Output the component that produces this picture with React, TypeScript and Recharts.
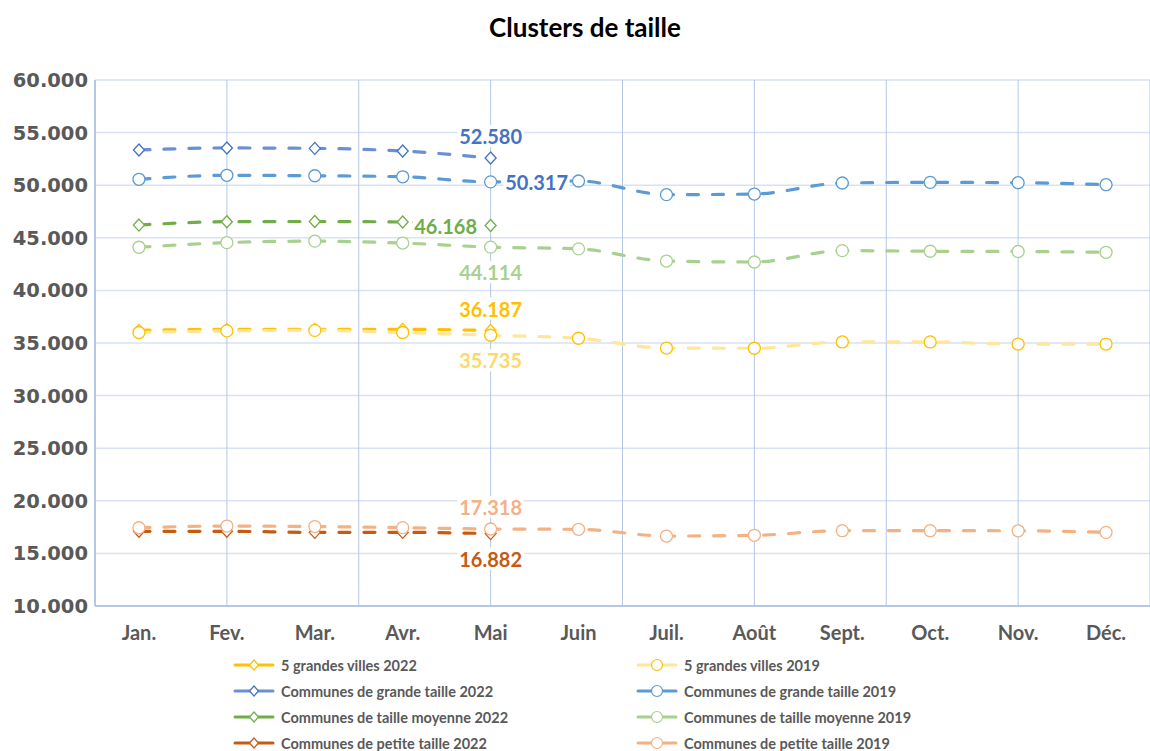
import React from 'react';
import { LineChart, Line, XAxis, YAxis, CartesianGrid, Legend } from 'recharts';

const months = ['Jan.', 'Fev.', 'Mar.', 'Avr.', 'Mai', 'Juin', 'Juil.', 'Août', 'Sept.', 'Oct.', 'Nov.', 'Déc.'];
const yTicks = [10000, 15000, 20000, 25000, 30000, 35000, 40000, 45000, 50000, 55000, 60000];

// 2022 only runs to Mai
const villes2022 = [36200, 36300, 36300, 36300, 36187, null, null, null, null, null, null, null];
const villes2019 = [36000, 36150, 36200, 36000, 35735, 35450, 34520, 34500, 35100, 35100, 34900, 34900];
const grande2022 = [53350, 53540, 53500, 53250, 52580, null, null, null, null, null, null, null];
const grande2019 = [50560, 50940, 50900, 50800, 50317, 50400, 49100, 49160, 50210, 50270, 50240, 50050];
const moyenne2022 = [46210, 46530, 46550, 46500, 46168, null, null, null, null, null, null, null];
const moyenne2019 = [44100, 44540, 44680, 44500, 44114, 43950, 42790, 42700, 43780, 43720, 43700, 43620];
const petite2022 = [17100, 17100, 17000, 17000, 16882, null, null, null, null, null, null, null];
const petite2019 = [17440, 17600, 17550, 17450, 17318, 17290, 16650, 16720, 17160, 17160, 17150, 17000];

const LABEL_IDX = 4;
const FONT = 'Lato, "Open Sans", sans-serif';
const TEXT_GREY = '#595959';

type Series = {
  key: string;
  name: string;
  values: (number | null)[];
  color: string;
  markerColor: string;
  marker: 'diamond' | 'circle';
  labelColor: string;
  labelPos: 'top' | 'bottom' | 'left' | 'right';
};

const series: Series[] = [
  { key: 'v22', name: '5 grandes villes 2022', values: villes2022, color: '#FFC000', markerColor: '#FFC000', marker: 'diamond', labelColor: '#FFC000', labelPos: 'top' },
  { key: 'v19', name: '5 grandes villes 2019', values: villes2019, color: '#FFE699', markerColor: '#FFC000', marker: 'circle', labelColor: '#FFD966', labelPos: 'bottom' },
  { key: 'g22', name: 'Communes de grande taille 2022', values: grande2022, color: '#6A8FD4', markerColor: '#4472C4', marker: 'diamond', labelColor: '#4472C4', labelPos: 'top' },
  { key: 'g19', name: 'Communes de grande taille 2019', values: grande2019, color: '#5B9BD5', markerColor: '#5B9BD5', marker: 'circle', labelColor: '#4472C4', labelPos: 'right' },
  { key: 'm22', name: 'Communes de taille moyenne 2022', values: moyenne2022, color: '#70AD47', markerColor: '#70AD47', marker: 'diamond', labelColor: '#70AD47', labelPos: 'left' },
  { key: 'm19', name: 'Communes de taille moyenne 2019', values: moyenne2019, color: '#A9D18E', markerColor: '#A9D18E', marker: 'circle', labelColor: '#A9D18E', labelPos: 'bottom' },
  { key: 'p22', name: 'Communes de petite taille 2022', values: petite2022, color: '#C55A11', markerColor: '#C55A11', marker: 'diamond', labelColor: '#C55A11', labelPos: 'bottom' },
  { key: 'p19', name: 'Communes de petite taille 2019', values: petite2019, color: '#F4B183', markerColor: '#F4B183', marker: 'circle', labelColor: '#F4B183', labelPos: 'top' },
];

const data = months.map((m, i) => {
  const row: Record<string, number | string | null> = { i, month: m };
  series.forEach((s) => { row[s.key] = s.values[i]; });
  return row;
});

const fmt = (v: number) => v.toLocaleString('de-DE', { minimumFractionDigits: 0 });

const makeDot = (s: Series) => (props: any) => {
  const { cx, cy, value, index } = props;
  if (value == null || cx == null || cy == null) return <g key={`${s.key}-d-${index}`} />;
  if (s.marker === 'diamond') {
    return (
      <path
        key={`${s.key}-d-${index}`}
        d={`M${cx},${cy - 6} L${cx + 5.5},${cy} L${cx},${cy + 6} L${cx - 5.5},${cy} Z`}
        fill="#fff"
        stroke={s.markerColor}
        strokeWidth={1.3}
        strokeDasharray="none"
      />
    );
  }
  return (
    <circle key={`${s.key}-d-${index}`} cx={cx} cy={cy} r={6} fill="#fff" stroke={s.markerColor} strokeWidth={1.3} strokeDasharray="none" />
  );
};

const makeLabel = (s: Series) => (props: any) => {
  const { x, y, value, index } = props;
  if (index !== LABEL_IDX || value == null) return null;
  const txt = fmt(value);
  const w = 66;
  const h = 22;
  let cx = x;
  let cy = y;
  if (s.labelPos === 'top') cy = y - 22;
  if (s.labelPos === 'bottom') cy = y + 25;
  if (s.labelPos === 'right') cx = x + 46;
  if (s.labelPos === 'left') cx = x - 45;
  return (
    <g key={`${s.key}-l`}>
      <rect x={cx - w / 2} y={cy - h / 2} width={w} height={h} fill="#fff" />
      <text x={cx} y={cy} textAnchor="middle" dominantBaseline="central" fill={s.labelColor} fontFamily={FONT} fontWeight={700} fontSize={20}>
        {txt}
      </text>
    </g>
  );
};

const renderLegend = () => (
  <div style={{ position: 'relative', width: 1150, height: 100, fontFamily: FONT }}>
    {series.map((s, idx) => {
      const col = idx % 2;
      const row = Math.floor(idx / 2);
      const left = col === 0 ? 233 : 636;
      const top = row * 26;
      return (
        <div key={s.key} style={{ position: 'absolute', left, top, height: 20, display: 'flex', alignItems: 'center' }}>
          <svg width={44} height={16} style={{ marginRight: 4 }}>
            <line x1={2} y1={8} x2={40} y2={8} stroke={s.color} strokeWidth={3} strokeLinecap="round" />
            {s.marker === 'diamond' ? (
              <path d="M21,3 L25.5,8 L21,13 L16.5,8 Z" fill="#fff" stroke={s.markerColor} strokeWidth={1.2} />
            ) : (
              <circle cx={21} cy={8} r={5.5} fill="#fff" stroke={s.markerColor} strokeWidth={1.2} />
            )}
          </svg>
          <span style={{ fontSize: 14.5, fontWeight: 700, color: TEXT_GREY, whiteSpace: 'nowrap' }}>{s.name}</span>
        </div>
      );
    })}
  </div>
);

// Excel puts the vertical gridlines every 1.5 categories
const vGridValues = [-0.5, 1, 2.5, 4, 5.5, 7, 8.5, 10, 11.5];

export default function App() {
  return (
    <div style={{ position: 'absolute', left: 0, top: 0, width: 1150, height: 751, background: '#fff' }}>
      <div
        style={{
          position: 'absolute', top: 11, left: 0, width: 1170, textAlign: 'center',
          fontFamily: FONT, fontWeight: 700, fontSize: 26, color: '#000',
        }}
      >
        Clusters de taille
      </div>
      <LineChart width={1150} height={751} data={data} margin={{ top: 80, right: 0, bottom: 115, left: 8 }}>
        <CartesianGrid horizontal vertical={false} stroke="#D9E1F2" strokeWidth={1.5} />
        <CartesianGrid
          horizontal={false}
          vertical
          stroke="#B4C7E7"
          strokeWidth={1}
          verticalCoordinatesGenerator={(p: any) => {
            const sc = p?.xAxis?.scale;
            if (typeof sc === 'function') return vGridValues.map((v) => sc(v));
            return vGridValues.map((v) => p.offset.left + ((v + 0.5) / 12) * p.offset.width);
          }}
        />
        <XAxis
          dataKey="i"
          type="number"
          domain={[-0.5, 11.5]}
          ticks={[0, 1, 2, 3, 4, 5, 6, 7, 8, 9, 10, 11]}
          tickFormatter={(v: number) => months[v]}
          interval={0}
          tickLine={false}
          tickSize={0}
          tickMargin={20}
          axisLine={{ stroke: '#B4C7E7', strokeWidth: 2 }}
          tick={{ fill: TEXT_GREY, fontFamily: FONT, fontWeight: 700, fontSize: 20 }}
        />
        <YAxis
          type="number"
          domain={[10000, 60000]}
          ticks={yTicks}
          interval={0}
          width={87}
          tickLine={false}
          tickSize={0}
          tickMargin={7}
          tickFormatter={(v: number) => v.toLocaleString('de-DE', { minimumFractionDigits: 3 }).replace(',', '.').slice(0, 6)}
          axisLine={{ stroke: '#B4C7E7', strokeWidth: 2 }}
          tick={{ fill: TEXT_GREY, fontFamily: '"DejaVu Sans", sans-serif', fontWeight: 700, fontSize: 19.5 }}
        />
        <Legend layout="vertical" align="center" verticalAlign="middle" content={renderLegend} wrapperStyle={{ top: 655, left: 0, width: 1150 }} />
        {series.map((s) => (
          <Line
            key={s.key}
            type="monotone"
            dataKey={s.key}
            name={s.name}
            stroke={s.color}
            strokeWidth={3.2}
            strokeDasharray="11 14"
            strokeLinecap="round"
            dot={makeDot(s)}
            activeDot={false}
            label={makeLabel(s)}
            connectNulls={false}
            isAnimationActive={false}
          />
        ))}
      </LineChart>
    </div>
  );
}
